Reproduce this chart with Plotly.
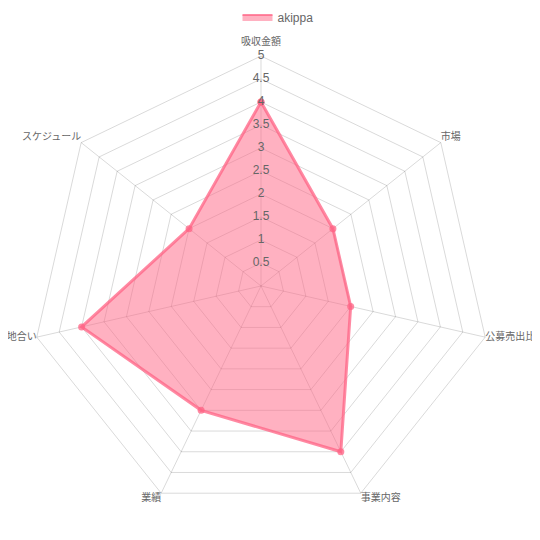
"""Radar chart — akippa IPO evaluation."""

import plotly.graph_objects as go

categories = ["吸収金額", "市場", "公募売出比", "事業内容", "業績", "地合い", "スケジュール"]
akippa_scores = [4, 2, 2, 4, 3, 4, 2]
radial_ticks = [0.5, 1, 1.5, 2, 2.5, 3, 3.5, 4, 4.5, 5]
radial_tick_labels = ["0.5", "1", "1.5", "2", "2.5", "3", "3.5", "4", "4.5", "5"]

FONT = "Liberation Sans, Noto Sans CJK JP, sans-serif"
GRID = "rgba(0,0,0,0.15)"
PINK_FILL = "rgba(255,99,132,0.5)"
PINK_LINE = "rgba(255,99,132,0.75)"

fig = go.Figure()
fig.add_trace(go.Scatterpolar(
    r=akippa_scores + akippa_scores[:1],
    theta=categories + categories[:1],
    name="akippa",
    mode="lines+markers",
    fill="toself",
    fillcolor=PINK_FILL,
    line=dict(color=PINK_LINE, width=3),
    marker=dict(color=PINK_LINE, size=7),
    showlegend=False,
))
# legend entry only (box like Chart.js)
fig.add_trace(go.Scatterpolar(
    r=[None], theta=[categories[0]],
    name="akippa",
    mode="lines",
    fill="toself",
    fillcolor=PINK_FILL,
    line=dict(color=PINK_LINE, width=2),
))
# tick labels centred on the first spoke, like Chart.js
fig.add_trace(go.Scatterpolar(
    r=radial_ticks,
    theta=[categories[0]] * len(radial_ticks),
    mode="text",
    text=radial_tick_labels,
    textposition="middle center",
    textfont=dict(family=FONT, size=12, color="#666"),
    showlegend=False,
    hoverinfo="skip",
))
# category labels hugging the outer vertices (Plotly's own sit too far out);
# invisible markers only serve to push the top label a little higher
fig.add_trace(go.Scatterpolar(
    r=[5] * len(categories),
    theta=categories,
    mode="markers+text",
    text=categories,
    marker=dict(size=[12, 0, 0, 0, 0, 0, 0], opacity=0),
    textposition=["top center", "top right", "middle right", "bottom right",
                  "bottom left", "middle left", "top left"],
    textfont=dict(family=FONT, size=10, color="#666"),
    cliponaxis=False,
    showlegend=False,
    hoverinfo="skip",
))

fig.update_layout(
    width=540, height=540,
    margin=dict(l=0, r=0, t=0, b=0, autoexpand=False),
    paper_bgcolor="white",
    font=dict(family=FONT, color="#666", size=10),
    showlegend=True,
    legend=dict(
        orientation="h", x=0.5, xanchor="center", y=1.01, yanchor="top",
        font=dict(size=12, color="#666"),
    ),
    polar=dict(
        domain=dict(x=[0.0426, 0.8944], y=[0.0593, 0.9111]),
        bgcolor="white",
        gridshape="linear",
        radialaxis=dict(
            range=[0, 5], tickvals=radial_ticks, showticklabels=False,
            ticks="", showline=False, gridcolor=GRID, gridwidth=1,
        ),
        angularaxis=dict(
            rotation=90, direction="clockwise",
            showline=True, linecolor=GRID, gridcolor=GRID,
            ticks="", showticklabels=False,
        ),
    ),
)

fig.write_html("out.html")
